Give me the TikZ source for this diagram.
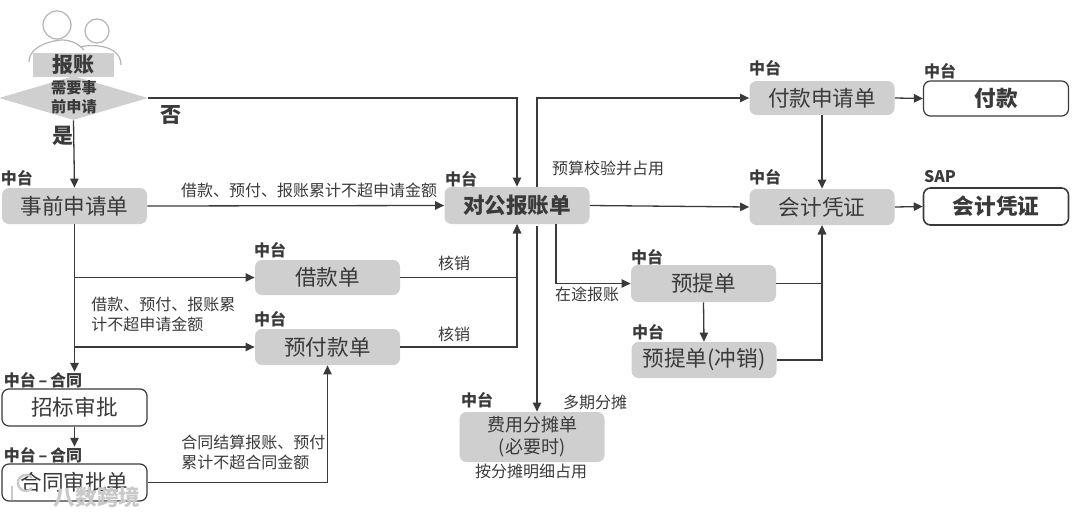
\documentclass[tikz,border=0pt]{standalone}
\usepackage{fontspec}
\setmainfont{Noto Sans CJK SC}
\usetikzlibrary{arrows.meta,shapes.geometric}
\definecolor{boxgray}{HTML}{CFCFCF}
\definecolor{ink}{HTML}{3A3A3A}
\definecolor{iconline}{HTML}{B4B4B4}
\definecolor{wmark}{HTML}{C9C9C9}
\tikzset{
  px/.style={x=0.5pt,y=-0.5pt},
  base/.style={rounded corners=3.5pt,minimum width=72.5pt,inner sep=0pt,text=ink,font=\fontsize{10.8pt}{12.5pt}\selectfont,align=center},
  graybox/.style={base,fill=boxgray},
  whitebox/.style={base,draw=ink,line width=0.6pt,fill=white},
  tag/.style={inner sep=0pt,text=ink,font=\fontsize{8pt}{9pt}\selectfont\bfseries},
  note/.style={inner sep=0pt,text=ink,font=\fontsize{8pt}{10pt}\selectfont,align=left},
  link/.style={draw=ink,line width=0.65pt},
  arrow/.style={link,-{Triangle[length=4.5pt,width=4.2pt]}}
}
\begin{document}
\begin{tikzpicture}[px]
\useasboundingbox (0,0) rectangle (1080,514);
% people icon
\node[circle,draw=iconline,line width=0.6pt,minimum size=14pt,inner sep=0pt] (headA) at (57,25) {};
\node[circle,draw=iconline,line width=0.6pt,minimum size=12pt,inner sep=0pt] (headB) at (97,31) {};
\draw[iconline,line width=0.6pt] (29,62) .. controls (29,45) and (55,40) .. (62,40) .. controls (72,40) and (80,45) .. (84,50);
\draw[iconline,line width=0.6pt] (80,47) .. controls (90,44) and (121,44) .. (121,65);
\node[fill=boxgray,minimum width=40.5pt,minimum height=12pt,inner sep=0pt,text=ink,font=\fontsize{10.5pt}{12pt}\selectfont\bfseries] (report) at (73.5,64.5) {报账};
\node[diamond,fill=boxgray,aspect=3.3,minimum width=74.5pt,minimum height=22pt,inner sep=0pt] (need) at (73.5,98) {};
\node[inner sep=0pt,text=ink,align=center,font=\fontsize{7.6pt}{9.6pt}\selectfont\bfseries] (needt) at (74,97) {需要事\\前申请};
\node[tag,font=\fontsize{10.5pt}{12pt}\selectfont\bfseries] (no) at (171,115) {否};
\node[tag,font=\fontsize{10.5pt}{12pt}\selectfont\bfseries] (yes) at (63,136) {是};
% boxes
\node[graybox,minimum height=18pt] (pre) at (74.5,206) {事前申请单};
\node[graybox,minimum height=18.5pt,font=\fontsize{10.8pt}{12.5pt}\selectfont\bfseries] (corp) at (517,205.5) {对公报账单};
\node[graybox,minimum height=17pt] (payreq) at (822,98) {付款申请单};
\node[whitebox,minimum height=17.5pt,font=\fontsize{10.8pt}{12.5pt}\selectfont\bfseries] (pay) at (996,98.5) {付款};
\node[graybox,minimum height=18pt] (voucher) at (822,207) {会计凭证};
\node[whitebox,minimum height=18.5pt,line width=0.8pt,font=\fontsize{10.8pt}{12.5pt}\selectfont\bfseries] (sapv) at (996,206.5) {会计凭证};
\node[graybox,minimum height=17.5pt] (loan) at (327.5,277.5) {借款单};
\node[graybox,minimum height=18pt] (adv) at (327.5,347) {预付款单};
\node[graybox,minimum height=18.5pt] (acc) at (703.5,283.5) {预提单};
\node[graybox,minimum height=18pt] (accr) at (704,360) {预提单(冲销)};
\node[graybox,minimum height=25pt,font=\fontsize{9pt}{11pt}\selectfont] (alloc) at (532,437) {费用分摊单\\(必要时)};
\node[whitebox,minimum height=18.5pt] (bid) at (74.5,407.5) {招标审批};
\node[whitebox,minimum height=18.5pt] (contract) at (74.5,482.5) {合同审批单};
% tags
\node[tag] (t1) at (17,178) {中台};
\node[tag] (t2) at (461,179) {中台};
\node[tag] (t3) at (270,250) {中台};
\node[tag] (t4) at (270,319) {中台};
\node[tag] (t5) at (765,68) {中台};
\node[tag] (t6) at (940,71) {中台};
\node[tag] (t7) at (765,177) {中台};
\node[tag] (t8) at (940,177) {SAP};
\node[tag] (t9) at (647,257) {中台};
\node[tag] (t10) at (648,332) {中台};
\node[tag] (t11) at (477,400) {中台};
\node[tag] (t12) at (43,380) {中台\,–\,合同};
\node[tag] (t13) at (43,455) {中台\,–\,合同};
% notes
\node[note] (n1) at (309,190) {借款、预付、报账累计不超申请金额};
\node[note] (n2) at (454,263) {核销};
\node[note] (n3) at (454,334) {核销};
\node[note,anchor=north west] (n4) at (91,297) {借款、预付、报账累\\计不超申请金额};
\node[note,anchor=north west] (n5) at (181,435) {合同结算报账、预付\\累计不超合同金额};
\node[note] (n6) at (608,168) {预算校验并占用};
\node[note] (n7) at (587,294) {在途报账};
\node[note] (n8) at (595,402) {多期分摊};
\node[note] (n9) at (531,471) {按分摊明细占用};
% connectors
\draw[arrow] (need.east) -| (corp.north);
\draw[arrow] (need.south) -- (pre.north);
\draw[arrow] (pre.east) -- (corp.west);
\coordinate (bt) at (pre.south |- t12.north);
\draw[arrow] (pre.south) -- (bt);
\coordinate (ja) at (pre.south |- loan.west);
\coordinate (jb) at (pre.south |- adv.west);
\draw[arrow] (ja) -- (loan.west);
\draw[arrow] (jb) -- (adv.west);
\draw[arrow] (loan.east) -| (corp.south);
\draw[arrow] (adv.east) -| (corp.south);
\coordinate (ct) at (bid.south |- t13.north);
\draw[arrow] (bid.south) -- (ct);
\draw[arrow] (contract.east) -| (adv.south);
\coordinate (ca) at ([xshift=10pt]corp.north);
\draw[arrow] (ca) |- (payreq.west);
\draw[arrow] (corp.east) -- (voucher.west);
\coordinate (cb) at ([xshift=19.5pt]corp.south);
\draw[arrow] (cb) |- (acc.west);
\coordinate (cc) at ([xshift=10pt,yshift=-1pt]corp.south);
\coordinate (cd) at (cc |- alloc.north);
\draw[arrow] (cc) -- (cd);
\draw[arrow] (payreq.east) -- (pay.west);
\draw[arrow] (payreq.south) -- (voucher.north);
\draw[arrow] (voucher.east) -- (sapv.west);
\draw[arrow] (acc.east) -| (voucher.south);
\draw[arrow] (accr.east) -| (voucher.south);
\draw[arrow] (acc.south) -- (accr.north);
% watermark
\draw[wmark,line width=1.2pt] (12,486) -- (12,500);
\draw[wmark,line width=1.2pt] (32,488) arc (40:320:8);
\node[inner sep=0pt,text=wmark,font=\fontsize{10.8pt}{12pt}\selectfont\bfseries] (wm) at (97,497) {八数跨境};
\end{tikzpicture}
\end{document}
